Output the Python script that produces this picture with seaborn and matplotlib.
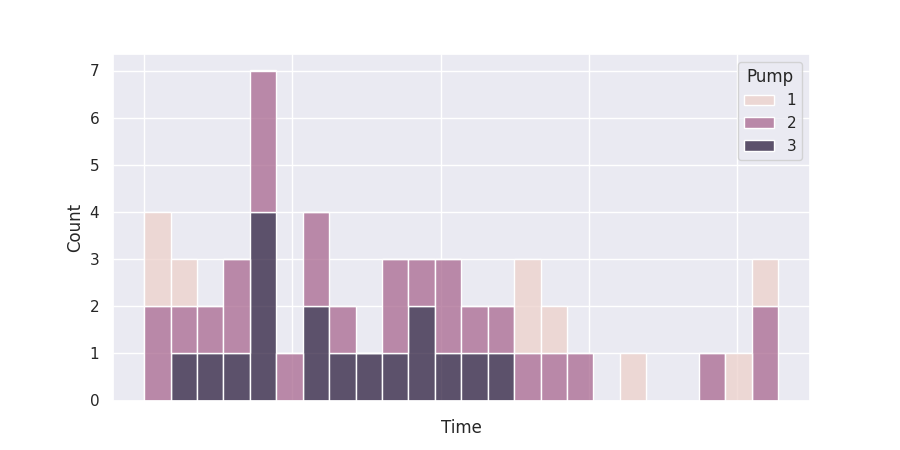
import matplotlib
matplotlib.use("Agg")
import matplotlib.pyplot as plt
import pandas as pd
import seaborn as sns

PUMP1_TIMES = [0.0, 0.09, 0.27, 2.59, 2.59, 2.77, 3.30, 4.02, 4.28]
PUMP2_TIMES = [0.09, 0.09, 0.27, 0.45, 0.62, 0.62,
               0.80, 0.80, 0.80, 0.98, 1.16, 1.16, 1.34,
               1.70, 1.70, 1.87, 2.05, 2.05, 2.23, 2.41,
               2.59, 2.77, 2.95, 3.84, 4.20, 4.20]
PUMP3_TIMES = [0.27, 0.45, 0.62, 0.80, 0.80, 0.80, 0.80,
               1.16, 1.16, 1.34, 1.52, 1.70, 1.87, 1.87,
               2.05, 2.23, 2.41]
N_BINS = 24

sns.set_theme()

df = pd.DataFrame({
    "Time": PUMP1_TIMES + PUMP2_TIMES + PUMP3_TIMES,
    "Pump": [1] * len(PUMP1_TIMES) + [2] * len(PUMP2_TIMES) + [3] * len(PUMP3_TIMES),
})

fig, ax = plt.subplots(figsize=(9, 4.5), dpi=100)
sns.histplot(data=df, x="Time", hue="Pump", bins=N_BINS, multiple="stack", ax=ax)
ax.set_xticklabels([])
ax.set_xlabel("Time")
ax.set_ylabel("Count")

fig.savefig("out.png", dpi=100)
